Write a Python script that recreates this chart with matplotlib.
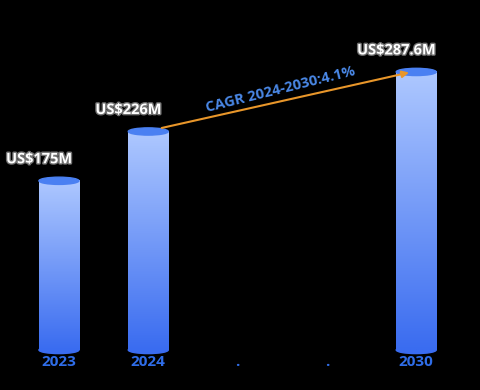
import numpy as np
import matplotlib
matplotlib.use("Agg")
import matplotlib.pyplot as plt
from matplotlib.patches import Ellipse
import matplotlib.patheffects as pe
from matplotlib.colors import LinearSegmentedColormap

plt.rcParams["font.family"] = ["Open Sans", "DejaVu Sans"]

years = ["2023", "2024", ".", ".", "2030"]
values = [175, 226, None, None, 287.6]
labels = ["US$175M", "US$226M", "", "", "US$287.6M"]
cagr_text = "CAGR 2024-2030:4.1%"

fig = plt.figure(figsize=(4.8, 3.9), dpi=100, facecolor="black")
ax = fig.add_axes([0, 0, 1, 1])
ax.set_facecolor("black")
ax.set_xlim(-0.66, 4.714)
ax.set_ylim(-41.4, 362)
ax.axis("off")

cmap = LinearSegmentedColormap.from_list("bar", ["#3a6cf0", "#aec8ff"])
grad = np.linspace(0, 1, 256).reshape(-1, 1)
w = 0.448
eh = 7.5

for i, v in enumerate(values):
    if v is not None:
        ax.imshow(grad, cmap=cmap, origin="lower", aspect="auto",
                  extent=[i - w / 2, i + w / 2, 0, v], zorder=2)
        ax.add_patch(Ellipse((i, 0), w, eh, color="#3a6cf0", zorder=1))
        ax.add_patch(Ellipse((i, v), w, eh, color="#4a80f2", zorder=3))
        ax.text(i - 0.22, v + 15, labels[i], ha="center", va="bottom",
                color="white", fontsize=10.5, fontweight="bold",
                path_effects=[pe.withStroke(linewidth=2, foreground="#707070")])
    ax.text(i, -12, years[i], ha="center", va="center", color="#2f6de8",
            fontsize=11, fontweight="bold")

# CAGR arrow from 2024 to 2030
ax.annotate("", xy=(4 - 0.05, values[4]), xytext=(1 + 0.12, values[1] + 3),
            arrowprops=dict(arrowstyle="-|>", color="#e8962a", lw=1.5,
                            mutation_scale=10), zorder=4)
ax.text(2.48, 269, cagr_text, ha="center", va="center", color="#4a88e6",
        fontsize=10.5, fontweight="bold", rotation=14)

fig.savefig("out.png", dpi=100, facecolor="black")
